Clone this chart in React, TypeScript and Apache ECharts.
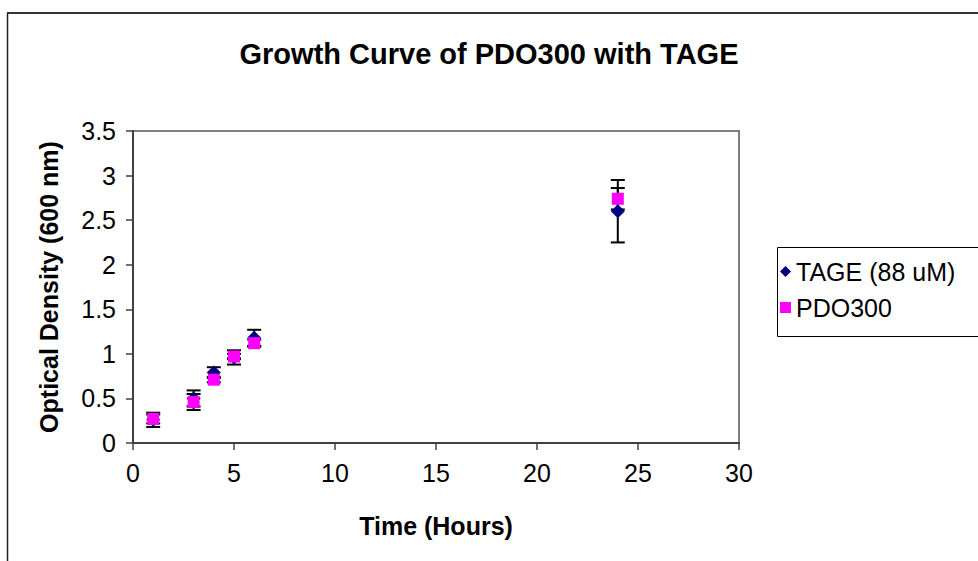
import React, { useEffect, useRef } from "react";
import * as echarts from "echarts";

const titleText = "Growth Curve of PDO300 with TAGE";
const xAxisName = "Time (Hours)";
const yAxisName = "Optical Density (600 nm)";
const seriesNames = ["TAGE (88 uM)", "PDO300"];

const times = [1, 3, 4, 5, 6, 24];
const tageMean = [0.26, 0.5, 0.79, 0.96, 1.18, 2.6];
const tageErr = [0.08, 0.09, 0.06, 0.08, 0.09, 0.35];
const pdoMean = [0.27, 0.46, 0.71, 0.97, 1.12, 2.74];
const pdoErr = [0.05, 0.09, 0.03, 0.03, 0.04, 0.12];

const FONT = 'Arial, "Liberation Sans", sans-serif';

export default function App() {
  const ref = useRef<HTMLDivElement>(null);

  useEffect(() => {
    if (!ref.current) return;
    const chart = echarts.init(ref.current, undefined, { renderer: "svg" });

    const errData = (means: number[], errs: number[]) =>
      times.map((t, i) => [t, means[i] - errs[i], means[i] + errs[i]]);

    const renderErr = (params: any, api: any) => {
      const x = api.value(0);
      const lo = api.coord([x, api.value(1)]);
      const hi = api.coord([x, api.value(2)]);
      const hw = 7;
      const style = { stroke: "#000", lineWidth: 2 };
      return {
        type: "group",
        children: [
          { type: "line", shape: { x1: lo[0], y1: lo[1], x2: hi[0], y2: hi[1] }, style },
          { type: "line", shape: { x1: lo[0] - hw, y1: lo[1], x2: lo[0] + hw, y2: lo[1] }, style },
          { type: "line", shape: { x1: hi[0] - hw, y1: hi[1], x2: hi[0] + hw, y2: hi[1] }, style },
        ],
      };
    };

    chart.setOption({
      animation: false,
      backgroundColor: "#fff",
      title: {
        text: titleText,
        left: "center",
        top: 39,
        padding: 0,
        textStyle: { fontFamily: FONT, fontSize: 29, fontWeight: "bold", color: "#000" },
      },
      legend: {
        orient: "vertical",
        left: 780,
        top: 259,
        padding: 0,
        itemWidth: 11,
        itemHeight: 11,
        itemGap: 11,
        textStyle: { fontFamily: FONT, fontSize: 25, color: "#000" },
        data: [
          { name: seriesNames[0], icon: "diamond" },
          { name: seriesNames[1], icon: "rect" },
        ],
      },
      grid: {
        left: 133,
        top: 131,
        right: 239,
        bottom: 118,
        show: true,
        borderColor: "#808080",
        borderWidth: 2,
        containLabel: false,
      },
      xAxis: {
        type: "value",
        min: 0,
        max: 30,
        interval: 5,
        name: xAxisName,
        nameLocation: "middle",
        nameGap: 70,
        nameTextStyle: { fontFamily: FONT, fontSize: 25, fontWeight: "bold", color: "#000" },
        axisLine: { show: true, lineStyle: { color: "#404040", width: 2 } },
        axisTick: { show: true, inside: false, length: 7, lineStyle: { color: "#404040", width: 1.5 } },
        axisLabel: { margin: 17, fontFamily: FONT, fontSize: 25, color: "#000" },
        splitLine: { show: false },
      },
      yAxis: {
        type: "value",
        min: 0,
        max: 3.5,
        interval: 0.5,
        name: yAxisName,
        nameLocation: "middle",
        nameGap: 72,
        nameRotate: 90,
        nameTextStyle: { fontFamily: FONT, fontSize: 25, fontWeight: "bold", color: "#000" },
        axisLine: { show: true, lineStyle: { color: "#404040", width: 2 } },
        axisTick: { show: true, inside: false, length: 7, lineStyle: { color: "#404040", width: 1.5 } },
        axisLabel: { margin: 17, fontFamily: FONT, fontSize: 25, color: "#000" },
        splitLine: { show: false },
      },
      graphic: [
        { type: "line", shape: { x1: 7, y1: 13, x2: 978, y2: 13 }, style: { stroke: "#333", lineWidth: 2 }, silent: true },
        { type: "line", shape: { x1: 7.5, y1: 13, x2: 7.5, y2: 561 }, style: { stroke: "#222", lineWidth: 1.5 }, silent: true },
        { type: "rect", shape: { x: 777.5, y: 247.5, width: 260, height: 89 }, style: { fill: "none", stroke: "#000", lineWidth: 1 }, silent: true, z: -1 },
      ],
      series: [
        {
          type: "custom",
          name: "tageErr",
          renderItem: renderErr,
          encode: { x: 0, y: [1, 2] },
          data: errData(tageMean, tageErr),
          z: 2,
          silent: true,
        },
        {
          type: "custom",
          name: "pdoErr",
          renderItem: renderErr,
          encode: { x: 0, y: [1, 2] },
          data: errData(pdoMean, pdoErr),
          z: 2,
          silent: true,
        },
        {
          type: "scatter",
          name: seriesNames[0],
          symbol: "diamond",
          symbolSize: 14,
          itemStyle: { color: "#000080", opacity: 1 },
          data: times.map((t, i) => [t, tageMean[i]]),
          z: 3,
        },
        {
          type: "scatter",
          name: seriesNames[1],
          symbol: "rect",
          symbolSize: 12,
          itemStyle: { color: "#FF00FF", opacity: 1 },
          data: times.map((t, i) => [t, pdoMean[i]]),
          z: 4,
        },
      ],
    });

    return () => chart.dispose();
  }, []);

  return (
    <div
      ref={ref}
      style={{ position: "fixed", left: 0, top: 0, width: 978, height: 561 }}
    />
  );
}
